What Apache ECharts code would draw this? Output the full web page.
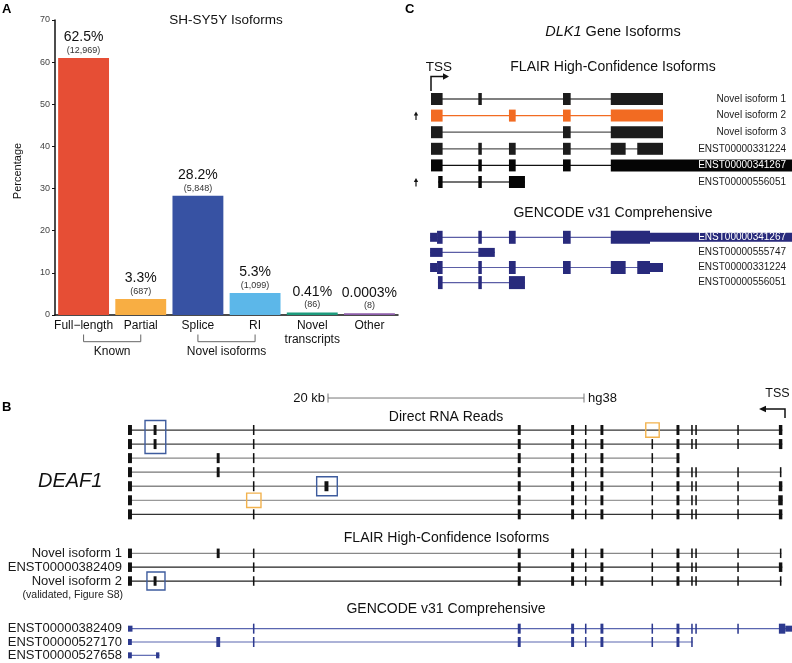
<!DOCTYPE html>
<html><head><meta charset="utf-8">
<script src="https://cdn.jsdelivr.net/npm/echarts@6/dist/echarts.min.js"></script>
<style>html,body{margin:0;padding:0;background:#fff}#c{width:792px;height:663px}</style>
</head><body><div id="c"></div>
<script>
// ================= Panel A: SH-SY5Y isoforms =================
const isoCategories = ['Full\u2212length', 'Partial', 'Splice', 'RI', 'Novel\ntranscripts', 'Other'];
const isoBarHeights = [61.0, 3.8, 28.3, 5.2, 0.6, 0.4];
const isoPctLabels = ['62.5%', '3.3%', '28.2%', '5.3%', '0.41%', '0.0003%'];
const isoCountLabels = ['(12,969)', '(687)', '(5,848)', '(1,099)', '(86)', '(8)'];
const isoGroups = [[0, 1], [2, 3]];
const isoGroupNames = ['Known', 'Novel isoforms'];

// ================= Panel C: DLK1 (position in % of gene span) =================
const dlkFlairNames = ['Novel isoform 1', 'Novel isoform 2', 'Novel isoform 3', 'ENST00000331224', 'ENST00000341267', 'ENST00000556051'];
const dlkFlairExons = [
  [[0, 5], [20.4, 21.9], [56.9, 60.2], [77.5, 100]],
  [[0, 5], [33.6, 36.5], [56.9, 60.2], [77.5, 100]],
  [[0, 5], [56.9, 60.2], [77.5, 100]],
  [[0, 5], [20.4, 21.9], [33.6, 36.5], [56.9, 60.2], [77.5, 83.9], [88.9, 100]],
  [[0, 5], [20.4, 21.9], [33.6, 36.5], [56.9, 60.2], [77.5, 156]],
  [[3.1, 5], [20.4, 21.9], [33.6, 40.5]]
];
const dlkGencodeNames = ['ENST00000341267', 'ENST00000555747', 'ENST00000331224', 'ENST00000556051'];
// third value: 1 = UTR / non-coding (thinner)
const dlkGencodeExons = [
  [[-0.4, 2.6, 1], [2.6, 5, 0], [20.4, 21.9, 0], [33.6, 36.5, 0], [56.9, 60.2, 0], [77.5, 94.4, 0], [94.4, 156, 1]],
  [[-0.4, 5, 1], [20.4, 27.5, 1]],
  [[-0.4, 2.6, 1], [2.6, 5, 0], [20.4, 21.9, 0], [33.6, 36.5, 0], [56.9, 60.2, 0], [77.5, 83.9, 0], [88.9, 94.4, 0], [94.4, 100, 1]],
  [[3.0, 5, 0], [20.4, 21.9, 0], [33.6, 40.5, 0]]
];

// ================= Panel B: DEAF1 (position in kb) =================
const E1 = [0, 0.31], NA = [2.0, 2.23], EB = [6.93, 7.16], EC = [9.76, 9.88], ND = [15.35, 15.66];
const EE = [30.45, 30.68], EF = [34.62, 34.85], EG = [35.70, 35.82], EH = [36.91, 37.14];
const EI = [40.90, 41.02], EJ = [42.85, 43.08], EK1 = [44.0, 44.12], EK2 = [44.32, 44.44];
const EL = [47.6, 47.72], ELAST = [50.85, 51.12], ELAST_W = [50.8, 51.15], ELAST_N = [50.93, 51.05];
const deafReadExons = [
  [E1, NA, EC, EE, EF, EG, EH, EJ, EK1, EK2, EL, ELAST],
  [E1, NA, EC, EE, EF, EG, EH, EI, EJ, EK1, EK2, EL, ELAST],
  [E1, EB, EC, EE, EF, EG, EH, EI, EJ],
  [E1, EB, EC, EE, EF, EG, EH, EI, EJ, EK1, EK2, EL, ELAST_N],
  [E1, EC, ND, EE, EF, EG, EH, EI, EJ, EK1, EK2, EL, ELAST],
  [E1, EE, EF, EG, EH, EI, EJ, EK1, EK2, EL, ELAST_W],
  [E1, EC, EE, EF, EG, EH, EI, EJ, EK1, EK2, EL, ELAST]
];
// highlight boxes: [firstRow, lastRow, startKb, endKb]
const deafReadBlueBoxes = [[0, 1, 1.33, 2.95], [4, 4, 14.74, 16.35]];
const deafReadOrangeBoxes = [[0, 0, 40.45, 41.5], [5, 5, 9.27, 10.39]];
const deafScaleBar = [[15.625, 35.625]];
const deafFlairNames = ['Novel isoform 1', 'ENST00000382409', 'Novel isoform 2'];
const deafFlairExons = [
  [E1, EB, EC, EE, EF, EG, EH, EI, EJ, EK1, EK2, EL, ELAST_N],
  [E1, EC, EE, EF, EG, EH, EI, EJ, EK1, EK2, EL, ELAST],
  [E1, NA, EC, EE, EF, EG, EH, EI, EJ, EK1, EK2, EL, ELAST_N]
];
const deafFlairBlueBoxes = [[2, 2, 1.48, 2.89]];
const deafGencodeNames = ['ENST00000382409', 'ENST00000527170', 'ENST00000527658'];
const deafGencodeExons = [
  [[0, 0.35, 1], EC, EE, EF, EG, EH, EI, EJ, EK1, EK2, EL, [50.85, 51.35, 0], [51.35, 51.9, 1]],
  [[0, 0.3, 1], [6.9, 7.2, 0], EC, EE, EF, EG, EH, EI, EJ, EK1],
  [[0, 0.3, 1], [2.19, 2.45, 1]]
];

// ================= helpers =================
const FONT = '"Liberation Sans", Arial, Helvetica, sans-serif';
function flatten(rows) { const o = []; rows.forEach((ex, r) => ex.forEach(x => o.push([r, x[0], x[1], x[2] || 0]))); return o; }
function spans(rows) { return rows.map((ex, r) => [r, Math.min(...ex.map(x => x[0])), Math.max(...ex.map(x => x[1]))]); }

function geneSeries(idx, rows, cfg) {
  return [{
    type: 'custom', xAxisIndex: idx, yAxisIndex: idx, z: 2,
    encode: { x: [1, 2], y: 0 },
    data: spans(rows),
    renderItem: function (p, api) {
      const r = api.value(0);
      const s = api.coord([api.value(1), r]);
      const e = api.coord([api.value(2), r]);
      return { type: 'line', shape: { x1: s[0], y1: s[1], x2: e[0], y2: s[1] },
        style: { stroke: cfg.lineColor[r] || cfg.lineColor[0], lineWidth: cfg.lw } };
    }
  }, {
    type: 'custom', xAxisIndex: idx, yAxisIndex: idx, z: 3,
    encode: { x: [1, 2], y: 0 },
    data: flatten(rows),
    renderItem: function (p, api) {
      const r = api.value(0);
      const s = api.coord([api.value(1), r]);
      const e = api.coord([api.value(2), r]);
      const h = api.value(3) ? cfg.hUtr : cfg.hCds;
      const w = Math.max(e[0] - s[0], cfg.minW);
      return { type: 'rect', shape: { x: s[0], y: s[1] - h / 2, width: w, height: h },
        style: { fill: cfg.exonColor[r] || cfg.exonColor[0] } };
    }
  }];
}
function boxSeries(idx, boxes, color, pad) {
  return {
    type: 'custom', xAxisIndex: idx, yAxisIndex: idx, z: 4,
    encode: { x: [2, 3], y: 0 },
    data: boxes,
    renderItem: function (p, api) {
      const a = api.coord([api.value(2), api.value(0)]);
      const b = api.coord([api.value(3), api.value(1)]);
      return { type: 'rect', shape: { x: a[0], y: a[1] - pad, width: b[0] - a[0], height: b[1] - a[1] + 2 * pad },
        style: { fill: 'none', stroke: color, lineWidth: 1.4 } };
    }
  };
}
function hiddenX(idx, min, max) {
  return { type: 'value', gridIndex: idx, min: min, max: max, scale: false,
    axisLine: { show: false }, axisTick: { show: false }, axisLabel: { show: false }, splitLine: { show: false } };
}
function catY(idx, names, show, pos, label) {
  return {
    type: 'category', gridIndex: idx, data: names, inverse: true, position: pos, z: 10,
    axisLine: { show: false }, axisTick: { show: false }, splitLine: { show: false },
    axisLabel: Object.assign({ show: show, interval: 0, fontFamily: FONT, color: '#1a1a1a' }, label)
  };
}
function grid(l, t, w, h) { return { left: l, top: t, width: w, height: h, outerBoundsMode: 'none', containLabel: false }; }
function whiteOn(name) { return n => n === name ? { value: n, textStyle: { color: '#fff', align: 'right', fontSize: 10, fontFamily: FONT } } : n; }

const isoColors = ['#E64E35', '#F8AE43', '#3752A3', '#5CB7E9', '#1D9B7D', '#8C5CA9'];
const bW = 665.6;   // 52 kb at 12.8 px/kb
const cPx = 2.32;   // px per DLK1 unit

const option = {
  animation: false,
  backgroundColor: '#fff',
  textStyle: { fontFamily: FONT },
  grid: [
    grid(55, 20, 343, 295),
    grid(431 - 0.5 * cPx, 90.7, 156.5 * cPx, 99.6),
    grid(431 - 0.5 * cPx, 229.75, 156.5 * cPx, 60.4),
    grid(128, 423, bW, 98.35),
    grid(128, 546.4, bW, 41.55),
    grid(128, 622, bW, 40)
  ],
  xAxis: [
    { type: 'category', gridIndex: 0, data: isoCategories,
      axisLine: { lineStyle: { color: '#111', width: 1.5 } }, axisTick: { show: false },
      axisLabel: { interval: 0, fontSize: 12, lineHeight: 14, margin: 4, color: '#111', fontFamily: FONT } },
    hiddenX(1, -0.5, 156), hiddenX(2, -0.5, 156), hiddenX(3, 0, 52), hiddenX(4, 0, 52), hiddenX(5, 0, 52)
  ],
  yAxis: [
    { type: 'value', gridIndex: 0, min: 0, max: 70, interval: 10,
      axisLine: { show: true, lineStyle: { color: '#111', width: 1.5 } },
      axisTick: { show: true, length: 3, lineStyle: { color: '#111' } },
      axisLabel: { fontSize: 9, color: '#444', margin: 5, fontFamily: FONT },
      splitLine: { show: false } },
    catY(1, dlkFlairNames.map(whiteOn('ENST00000341267')), true, 'right', { align: 'right', margin: 786 - (431 + 156 * cPx), fontSize: 10 }),
    catY(2, dlkGencodeNames.map(whiteOn('ENST00000341267')), true, 'right', { align: 'right', margin: 786 - (431 + 156 * cPx), fontSize: 10 }),
    catY(3, deafReadExons.map((_, i) => 'read ' + (i + 1)), false, 'left', {}),
    catY(4, deafFlairNames, true, 'left', { margin: 6, fontSize: 13 }),
    catY(5, deafGencodeNames, true, 'left', { margin: 6, fontSize: 13 })
  ],
  series: [
    { type: 'bar', xAxisIndex: 0, yAxisIndex: 0, barCategoryGap: '11%',
      data: isoBarHeights.map((v, i) => ({ value: v, itemStyle: { color: isoColors[i] } })),
      label: { show: true, position: 'top', distance: 2,
        formatter: p => '{a|' + isoPctLabels[p.dataIndex] + '}\n{b|' + isoCountLabels[p.dataIndex] + '}',
        rich: { a: { fontSize: 14, lineHeight: 15, color: '#111', fontFamily: FONT },
                b: { fontSize: 9, lineHeight: 11, color: '#333', fontFamily: FONT } } } },
    { type: 'custom', xAxisIndex: 0, yAxisIndex: 0, z: 5,
      encode: { x: [0, 1] },
      data: isoGroups,
      renderItem: function (p, api) {
        const a = api.coord([api.value(0), 0]);
        const b = api.coord([api.value(1), 0]);
        const y0 = a[1] + 19.5, y1 = a[1] + 26.7;
        return { type: 'group', children: [
          { type: 'polyline', shape: { points: [[a[0], y0], [a[0], y1], [b[0], y1], [b[0], y0]] },
            style: { stroke: '#666', lineWidth: 1, fill: 'none' } },
          { type: 'text', x: (a[0] + b[0]) / 2, y: a[1] + 36.5,
            style: { text: isoGroupNames[p.dataIndex], font: '12px ' + FONT, fill: '#111', align: 'center', verticalAlign: 'middle' } }
        ] };
      } },
    ...geneSeries(1, dlkFlairExons, { lineColor: ['#555', '#F26B22', '#555', '#555', '#111', '#444'],
      exonColor: ['#1c1c1c', '#F26B22', '#1c1c1c', '#1c1c1c', '#050505', '#050505'], hCds: 12, hUtr: 12, lw: 1.3, minW: 1 }),
    ...geneSeries(2, dlkGencodeExons, { lineColor: ['#5B5EA6'], exonColor: ['#282A7C'], hCds: 13, hUtr: 9, lw: 1.2, minW: 1 }),
    ...geneSeries(3, deafReadExons, { lineColor: ['#333', '#444', '#888', '#777', '#888', '#999', '#333'],
      exonColor: ['#111'], hCds: 10, hUtr: 10, lw: 1.3, minW: 1.3 }),
    boxSeries(3, deafReadBlueBoxes, '#3E5C9E', 9.5),
    boxSeries(3, deafReadOrangeBoxes, '#F2B24E', 7.2),
    { type: 'custom', xAxisIndex: 3, yAxisIndex: 3, z: 4,
      encode: { x: [0, 1] },
      data: deafScaleBar,
      renderItem: function (p, api) {
        const a = api.coord([api.value(0), 0]);
        const b = api.coord([api.value(1), 0]);
        const y = a[1] - 32;
        const st = { stroke: '#777', lineWidth: 1 };
        return { type: 'group', children: [
          { type: 'line', shape: { x1: a[0], y1: y, x2: b[0], y2: y }, style: st },
          { type: 'line', shape: { x1: a[0], y1: y - 4.5, x2: a[0], y2: y + 4.5 }, style: st },
          { type: 'line', shape: { x1: b[0], y1: y - 4.5, x2: b[0], y2: y + 4.5 }, style: st },
          { type: 'text', x: a[0] - 3, y: y, style: { text: '20 kb', font: '13px ' + FONT, fill: '#111', align: 'right', verticalAlign: 'middle' } },
          { type: 'text', x: b[0] + 4, y: y, style: { text: 'hg38', font: '13px ' + FONT, fill: '#111', align: 'left', verticalAlign: 'middle' } }
        ] };
      } },
    ...geneSeries(4, deafFlairExons, { lineColor: ['#888', '#222', '#222'], exonColor: ['#111'], hCds: 9.5, hUtr: 9.5, lw: 1.3, minW: 1.3 }),
    boxSeries(4, deafFlairBlueBoxes, '#3E5C9E', 9),
    ...geneSeries(5, deafGencodeExons, { lineColor: ['#5A66B0'], exonColor: ['#2D3A8F'], hCds: 10, hUtr: 6, lw: 1.2, minW: 1.3 })
  ],
  graphic: [
    { type: 'text', x: 2, y: 9.5, style: { text: 'A', font: 'bold 13px ' + FONT, fill: '#000', verticalAlign: 'middle' } },
    { type: 'text', x: 405, y: 9.5, style: { text: 'C', font: 'bold 13px ' + FONT, fill: '#000', verticalAlign: 'middle' } },
    { type: 'text', x: 2, y: 407, style: { text: 'B', font: 'bold 13px ' + FONT, fill: '#000', verticalAlign: 'middle' } },
    { type: 'text', x: 226, y: 20, style: { text: 'SH-SY5Y Isoforms', font: '13.5px ' + FONT, fill: '#111', align: 'center', verticalAlign: 'middle' } },
    { type: 'text', x: 18, y: 171, rotation: Math.PI / 2, style: { text: 'Percentage', font: '11px ' + FONT, fill: '#111', align: 'center', verticalAlign: 'middle' } },
    { type: 'text', x: 613, y: 32, style: { text: '{i|DLK1} Gene Isoforms', font: '14.5px ' + FONT, fill: '#111', align: 'center', verticalAlign: 'middle',
      rich: { i: { fontStyle: 'italic', fontSize: 14.5, fontFamily: FONT, fill: '#111' } } } },
    { type: 'text', x: 439, y: 67, style: { text: 'TSS', font: '13.5px ' + FONT, fill: '#111', align: 'center', verticalAlign: 'middle' } },
    { type: 'text', x: 613, y: 67, style: { text: 'FLAIR High-Confidence Isoforms', font: '14px ' + FONT, fill: '#111', align: 'center', verticalAlign: 'middle' } },
    { type: 'text', x: 613, y: 213, style: { text: 'GENCODE v31 Comprehensive', font: '14px ' + FONT, fill: '#111', align: 'center', verticalAlign: 'middle' } },
    { type: 'polyline', shape: { points: [[431, 91], [431, 76.5], [444, 76.5]] }, style: { stroke: '#111', lineWidth: 1.5, fill: 'none' } },
    { type: 'polygon', shape: { points: [[449, 76.5], [443, 73.3], [443, 79.7]] }, style: { fill: '#111' } },
    { type: 'line', shape: { x1: 416, y1: 120, x2: 416, y2: 114 }, style: { stroke: '#111', lineWidth: 1.2 } },
    { type: 'polygon', shape: { points: [[416, 111.5], [413.8, 115.5], [418.2, 115.5]] }, style: { fill: '#111' } },
    { type: 'line', shape: { x1: 416, y1: 186.5, x2: 416, y2: 180.5 }, style: { stroke: '#111', lineWidth: 1.2 } },
    { type: 'polygon', shape: { points: [[416, 178], [413.8, 182], [418.2, 182]] }, style: { fill: '#111' } },
    { type: 'text', x: 38, y: 481, style: { text: 'DEAF1', font: 'italic 20px ' + FONT, fill: '#111', align: 'left', verticalAlign: 'middle' } },
    { type: 'text', x: 446, y: 417, style: { text: 'Direct RNA Reads', font: '14px ' + FONT, fill: '#111', align: 'center', verticalAlign: 'middle' } },
    { type: 'text', x: 777.5, y: 394, style: { text: 'TSS', font: '12.5px ' + FONT, fill: '#111', align: 'center', verticalAlign: 'middle' } },
    { type: 'polyline', shape: { points: [[785, 418], [785, 409], [765, 409]] }, style: { stroke: '#111', lineWidth: 1.5, fill: 'none' } },
    { type: 'polygon', shape: { points: [[759, 409], [766, 405.8], [766, 412.2]] }, style: { fill: '#111' } },
    { type: 'text', x: 446.5, y: 538.5, style: { text: 'FLAIR High-Confidence Isoforms', font: '14px ' + FONT, fill: '#111', align: 'center', verticalAlign: 'middle' } },
    { type: 'text', x: 123, y: 595.5, style: { text: '(validated, Figure S8)', font: '10.5px ' + FONT, fill: '#222', align: 'right', verticalAlign: 'middle' } },
    { type: 'text', x: 446, y: 609.5, style: { text: 'GENCODE v31 Comprehensive', font: '14px ' + FONT, fill: '#111', align: 'center', verticalAlign: 'middle' } }
  ]
};
const chart = echarts.init(document.getElementById('c'), null, { renderer: 'canvas' });
chart.setOption(option);
</script>
</body></html>
